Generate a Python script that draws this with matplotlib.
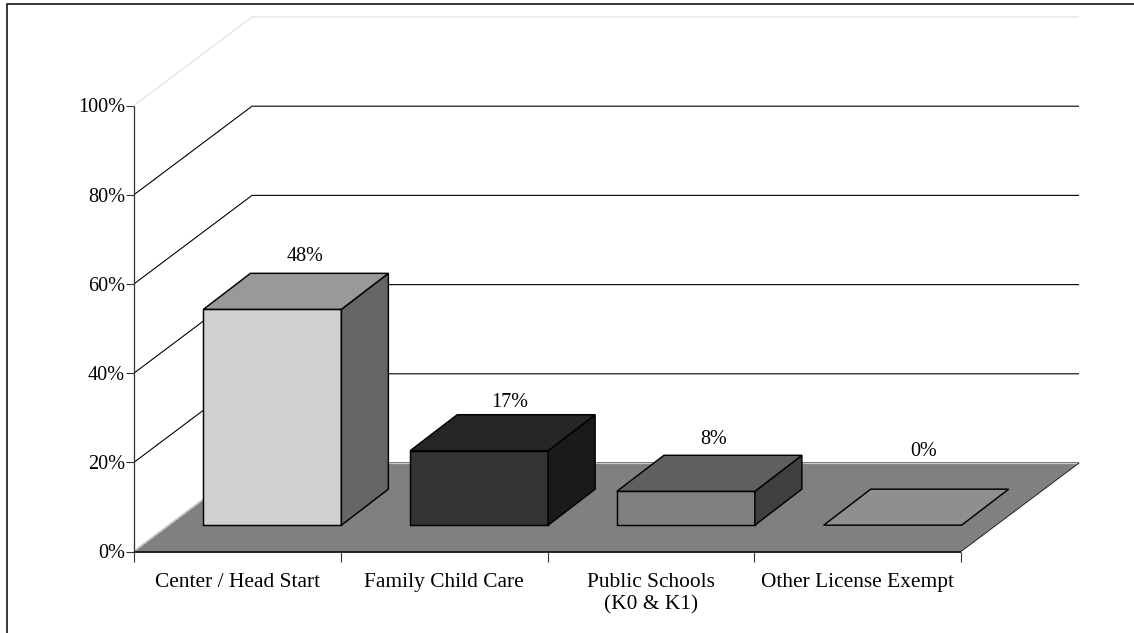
import matplotlib
matplotlib.use("Agg")
import matplotlib.pyplot as plt
from matplotlib.lines import Line2D
from matplotlib.patches import Polygon

categories = ["Center / Head Start", "Family Child Care", "Public Schools\n(K0 & K1)", "Other License Exempt"]
values = [48.4, 16.7, 7.6, 0.0]
labels = ["48%", "17%", "8%", "0%"]
yticks = [0, 20, 40, 60, 80, 100]
front_colors = ["#d0d0d0", "#333333", "#808080", "#8f8f8f"]
top_colors = ["#999999", "#262626", "#5f5f5f", "#8f8f8f"]
side_colors = ["#666666", "#1a1a1a", "#404040", "#8f8f8f"]

W, H = 1134, 633
plt.rcParams["font.family"] = ["Liberation Serif", "DejaVu Serif"]
fig = plt.figure(figsize=(W / 100, H / 100), dpi=100)
ax = fig.add_axes([134 / W, 1 - 551.5 / H, (961 - 134) / W, (551.5 - 105.5) / H])
ax.set_xlim(0, 4)
ax.set_ylim(0, 100)
for s in ax.spines.values():
    s.set_visible(False)
ax.patch.set_visible(False)

# outer frame: top and left edges only
fig.add_artist(Line2D([6.5 / W, 6.5 / W, 1], [0, 1 - 4 / H, 1 - 4 / H], transform=fig.transFigure,
                      color="#2a2a2a", lw=1.3, solid_capstyle="butt", solid_joinstyle="miter"))

# oblique offsets, in data units
WALL_DX, WALL_DY = 118 / 206.75, 88.5 / 4.46
BAR_DX, BAR_DY = 47 / 206.75, 36 / 4.46
BAR_X0, BAR_W, BAR_Y0 = 0.336, 0.667, 5.9

# back wall grid
for v in yticks:
    c = "#dddddd" if v == 100 else "black"
    ax.plot([0, WALL_DX, 4 + WALL_DX], [v, v + WALL_DY, v + WALL_DY], color=c, lw=0.8,
            clip_on=False, zorder=1, solid_joinstyle="miter", solid_capstyle="butt")

# floor
ax.add_patch(Polygon([(0, 0), (4, 0), (4 + WALL_DX, WALL_DY), (WALL_DX, WALL_DY)], closed=True,
                     fc="#808080", ec="none", clip_on=False, zorder=2))
ax.plot([WALL_DX, 4 + WALL_DX], [WALL_DY, WALL_DY], color="#c8c8c8", lw=0.9, clip_on=False, zorder=2,
        solid_capstyle="butt")
ax.plot([0, WALL_DX], [0, WALL_DY], color="#d8d8d8", lw=0.8, clip_on=False, zorder=2, solid_capstyle="butt")
ax.plot([4, 4 + WALL_DX], [0, WALL_DY], color="#222222", lw=0.7, clip_on=False, zorder=2, solid_capstyle="butt")

# bars
for i, v in enumerate(values):
    x0 = i + BAR_X0
    x1 = x0 + BAR_W
    y0 = BAR_Y0
    y1 = y0 + v
    kw = dict(closed=True, ec="black", lw=1.05, clip_on=False, zorder=3 + i, joinstyle="miter")
    if v > 0:
        ax.add_patch(Polygon([(x0, y0), (x1, y0), (x1, y1), (x0, y1)], fc=front_colors[i], **kw))
        ax.add_patch(Polygon([(x1, y0), (x1 + BAR_DX, y0 + BAR_DY), (x1 + BAR_DX, y1 + BAR_DY), (x1, y1)],
                             fc=side_colors[i], **kw))
    ax.add_patch(Polygon([(x0, y1), (x1, y1), (x1 + BAR_DX, y1 + BAR_DY), (x0 + BAR_DX, y1 + BAR_DY)],
                         fc=top_colors[i], **kw))

# data labels
label_x = [0.826, 1.817, 2.805, 3.82]
label_y = [66.2, 33.5, 25.2, 22.5]
for x, y, t in zip(label_x, label_y, labels):
    ax.text(x, y, t, ha="center", va="center", fontsize=14.5, color="black", zorder=10, clip_on=False)

# axes
ax.plot([0, 4], [0, 0], color="black", lw=1.2, clip_on=False, zorder=20, solid_capstyle="butt")
ax.plot([0, 0], [0, 100], color="#333333", lw=0.9, clip_on=False, zorder=20, solid_capstyle="butt")
ax.set_yticks(yticks)
ax.set_yticklabels([f"{v}%" for v in yticks], fontsize=14.6)
ax.tick_params(axis="y", length=5.5, width=0.8, color="#333333", pad=1)
ax.set_xticks(range(5))
ax.set_xticklabels([])
ax.tick_params(axis="x", length=7, width=0.8, color="#333333")
ax.set_xticks([i + 0.5 for i in range(4)], minor=True)
ax.set_xticklabels(categories, minor=True, fontsize=15.4, linespacing=1.25)
ax.tick_params(axis="x", which="minor", length=0, pad=15.5)

fig.savefig("out.png", dpi=100, facecolor="white")
